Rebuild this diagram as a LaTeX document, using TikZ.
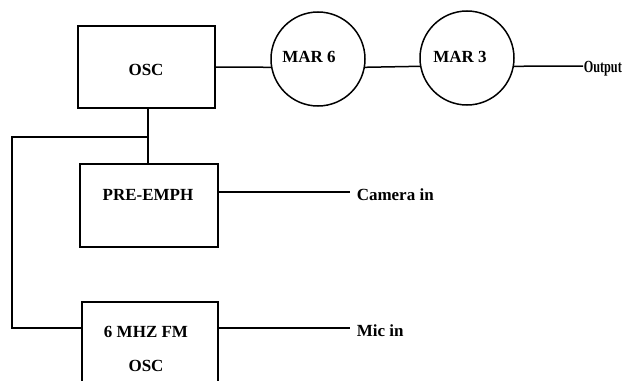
\documentclass[tikz,border=0pt]{standalone}
\usepackage{fontspec}
\setmainfont{Liberation Serif}
\begin{document}
\begin{tikzpicture}[x=1pt,y=-1pt,
  line width=1.5pt,
  txt/.style={font=\fontsize{17}{20}\selectfont\bfseries, inner sep=0pt},
  blk/.style={draw, rectangle, inner sep=0pt},
  mar/.style={draw, circle, inner sep=0pt, minimum size=94pt}]
\clip (0,0) rectangle (623,380);
\fill[white] (0,0) rectangle (623,380);
% boxes
\node[blk, minimum width=137pt, minimum height=82pt] (osc) at (146.5,67) {};
\node[blk, minimum width=138pt, minimum height=83pt] (pre) at (149,205.5) {};
\node[blk, minimum width=136pt, minimum height=100pt] (fm) at (150,352) {};
\node[txt] (osct) at (146,70) {OSC};
\node[txt] (pret) at (148,195) {PRE-EMPH};
\node[txt] (fmt1) at (146,332) {6 MHZ FM};
\node[txt] (fmt2) at (146,366) {OSC};
% circles
\node[mar] (mar6) at (318,59) {};
\node[mar] (mar3) at (467,58) {};
\node[txt] (mar6t) at (309,57) {MAR 6};
\node[txt] (mar3t) at (460,57) {MAR 3};
% free ends and labels
\coordinate (outend) at (583,66);
\coordinate (camend) at (350,192);
\coordinate (micend) at (350,328);
\coordinate (j) at (148,137);
\coordinate (lt) at (12,137);
\coordinate (lb) at (12,328);
\node[txt, anchor=west] (outt) at (583,69) {\scalebox{0.72}[1]{Output}};
\node[txt, anchor=west] (camt) at (356,195) {Camera in};
\node[txt, anchor=west] (mict) at (356,331) {Mic in};
% connectors
\draw (osc.east) -- (mar6.190);
\draw (mar6.350) -- (mar3.190);
\draw (mar3.350) -- (outend);
\draw (osc.south -| j) -- (pre.north -| j);
\draw (j) -- (lt) -- (lb) -- (lb -| fm.west);
\draw (camend -| pre.east) -- (camend);
\draw (micend -| fm.east) -- (micend);
\end{tikzpicture}
\end{document}
